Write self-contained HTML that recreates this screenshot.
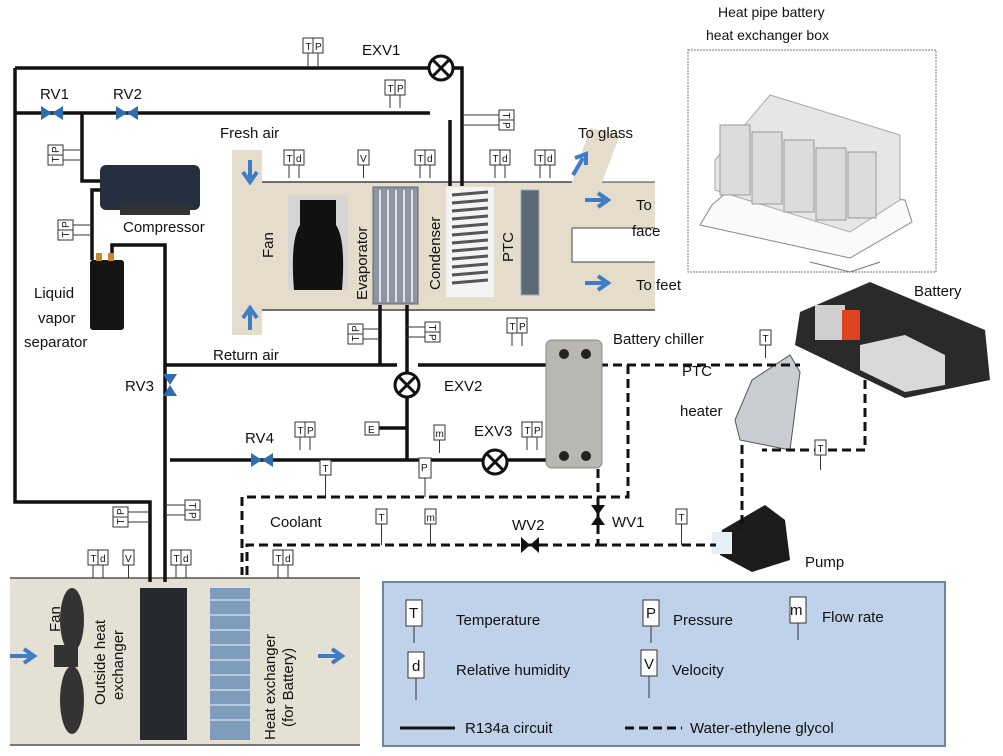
<!DOCTYPE html>
<html><head><meta charset="utf-8"><style>
body{margin:0;background:#fff}
svg{display:block}
text{font-family:"Liberation Sans",sans-serif;fill:#111}
.s{font-size:10px}
.l{font-size:15px}
</style></head><body>
<svg width="1003" height="756" viewBox="0 0 1003 756" xmlns="http://www.w3.org/2000/svg">
<defs>
<g id="tp"><rect x="0" y="0" width="10" height="15" fill="#fff" stroke="#333"/><rect x="10" y="0" width="10" height="15" fill="#fff" stroke="#333"/><line x1="5" y1="15" x2="5" y2="28" stroke="#333"/><line x1="15" y1="15" x2="15" y2="28" stroke="#333"/></g>
<g id="one"><rect x="0" y="0" width="11" height="15" fill="#fff" stroke="#333"/><line x1="5.5" y1="15" x2="5.5" y2="28" stroke="#333"/></g>
<g id="exv"><circle r="12" fill="#fff" stroke="#111" stroke-width="3"/><line x1="-8" y1="-8" x2="8" y2="8" stroke="#111" stroke-width="3"/><line x1="-8" y1="8" x2="8" y2="-8" stroke="#111" stroke-width="3"/></g>
<g id="rvh"><path d="M-11,-7 L11,7 L11,-7 L-11,7 Z" fill="#2f6db3"/></g>
<g id="rvv"><path d="M-7,-11 L7,11 L-7,11 L7,-11 Z" fill="#2f6db3"/></g>
</defs>

<!-- cabin duct -->
<path d="M232,150 H262 V182 H572 L590,128 L620,135 L602,182 H655 V228 H572 V262 H655 V310 H262 V335 H232 Z" fill="#e5dccb"/>
<line x1="262" y1="182" x2="572" y2="182" stroke="#444" stroke-width="1.5"/>
<line x1="262" y1="310" x2="655" y2="310" stroke="#444" stroke-width="1.5"/>
<path d="M602,182 H655 M572,228 H655 M572,228 V262 H655" stroke="#444" fill="none" stroke-width="1"/>
<!-- outside box -->
<rect x="10" y="578" width="350" height="168" fill="#e5e0d4"/>
<line x1="10" y1="578" x2="360" y2="578" stroke="#555" stroke-width="1.5"/>
<line x1="10" y1="745" x2="360" y2="745" stroke="#555" stroke-width="1.5"/>
<!-- legend -->
<rect x="383" y="582" width="562" height="164" fill="#bfd2ea" stroke="#6d86a6" stroke-width="2"/>
<!-- heat pipe box -->
<rect x="688" y="50" width="248" height="222" fill="#fff" stroke="#777" stroke-dasharray="2,1"/>
<path d="M712,205 L735,185 L905,200 L912,222 L850,258 L700,225 Z" fill="#fafafa" stroke="#888"/>
<path d="M715,160 L770,95 L900,135 L900,200 L850,232 L715,190 Z" fill="#e6e6e6" stroke="#aaa"/>
<g stroke="#999" fill="#dcdcdc"><rect x="720" y="125" width="30" height="70"/><rect x="752" y="132" width="30" height="72"/><rect x="784" y="140" width="30" height="72"/><rect x="816" y="148" width="30" height="72"/><rect x="848" y="152" width="28" height="66"/></g>
<path d="M850,272 L810,262 M850,272 L880,262" stroke="#777"/>
<!-- battery -->
<path d="M800,312 L870,282 L985,330 L990,380 L905,398 L795,345 Z" fill="#2a2a2a"/>
<rect x="815" y="305" width="30" height="35" fill="#cfcfcf"/>
<rect x="842" y="310" width="18" height="30" fill="#e0431f"/>
<path d="M860,345 L905,335 L945,355 L945,385 L905,392 L860,370 Z" fill="#d9d9d9"/>
<!-- PTC heater -->
<path d="M752,380 L790,355 L800,372 L790,450 L740,440 L735,420 Z" fill="#c9ccd1" stroke="#555"/>
<!-- pump -->
<path d="M722,530 L765,505 L785,520 L790,560 L752,572 L720,555 Z" fill="#1c1c1c"/>
<rect x="712" y="532" width="20" height="22" fill="#e6eef6"/>

<!-- R134a lines -->
<g stroke="#111" stroke-width="3.5" fill="none">
<path d="M15,68 H429 M453,68 H462 V186"/>
<path d="M15,68 V502 H150 V582"/>
<path d="M15,113 H430 M450,120 V186"/>
<path d="M82,113 V181 H105"/>
<path d="M103,190 H92 V260"/>
<path d="M112,258 V245 H165 V582"/>
<path d="M165,365 H397 M418,365 H552"/>
<path d="M380,305 V365 M407,305 V373 M407,397 V460"/>
<path d="M170,460 H484 M506,460 H552"/>
<path d="M365,428 H407"/>
</g>
<!-- dashed -->
<g stroke="#111" stroke-width="3" fill="none" stroke-dasharray="9,5">
<path d="M585,365 H800"/>
<path d="M628,365 V497 H242 V575"/>
<path d="M598,455 V545 H247 V575"/>
<path d="M598,545 H716"/>
<path d="M865,380 V450 H762"/>
<path d="M742,445 V530"/>
</g>
<!-- components -->
<use href="#exv" x="441" y="68"/>
<use href="#exv" x="407" y="385"/>
<use href="#exv" x="495" y="462"/>
<use href="#rvh" x="52" y="113"/><use href="#rvh" x="127" y="113"/>
<use href="#rvv" x="170" y="385"/>
<use href="#rvh" x="262" y="460"/>
<g transform="translate(530,545)"><path d="M-9,-8 L9,8 L9,-8 L-9,8 Z" fill="#111"/></g>
<g transform="translate(598,515)"><path d="M-7,-10 L7,10 L-7,10 L7,-10 Z" fill="#111"/></g>
<!-- compressor -->
<rect x="100" y="165" width="100" height="45" rx="6" fill="#243040"/>
<rect x="120" y="205" width="70" height="10" fill="#333"/>
<!-- separator -->
<rect x="90" y="260" width="34" height="70" rx="3" fill="#141414"/>
<rect x="96" y="253" width="6" height="8" fill="#c8872a"/><rect x="108" y="253" width="6" height="8" fill="#c8872a"/>
<!-- fan photo -->
<rect x="288" y="195" width="60" height="95" fill="#d5d5d5"/>
<path d="M300,200 H336 V225 Q346,240 342,290 H294 Q290,240 300,225 Z" fill="#111"/>
<!-- evaporator -->
<rect x="373" y="187" width="45" height="117" fill="#8c97a3" stroke="#666"/>
<g stroke="#dfe4ea" stroke-width="2"><line x1="380" y1="190" x2="380" y2="302"/><line x1="388" y1="190" x2="388" y2="302"/><line x1="396" y1="190" x2="396" y2="302"/><line x1="404" y1="190" x2="404" y2="302"/><line x1="412" y1="190" x2="412" y2="302"/></g>
<!-- condenser -->
<rect x="446" y="187" width="48" height="110" fill="#f4f4f4"/>
<g stroke="#555" stroke-width="3"><line x1="452" y1="195" x2="488" y2="192"/><line x1="452" y1="203" x2="488" y2="200"/><line x1="452" y1="211" x2="488" y2="208"/><line x1="452" y1="219" x2="488" y2="216"/><line x1="452" y1="227" x2="488" y2="224"/><line x1="452" y1="235" x2="488" y2="232"/><line x1="452" y1="243" x2="488" y2="240"/><line x1="452" y1="251" x2="488" y2="248"/><line x1="452" y1="259" x2="488" y2="256"/><line x1="452" y1="267" x2="488" y2="264"/><line x1="452" y1="275" x2="488" y2="272"/><line x1="452" y1="283" x2="488" y2="280"/></g>
<!-- PTC -->
<rect x="521" y="190" width="18" height="105" fill="#5d6a76" stroke="#9ab"/>
<!-- chiller -->
<rect x="546" y="340" width="56" height="128" rx="6" fill="#b9b7b1" stroke="#888"/>
<circle cx="564" cy="354" r="5" fill="#222"/><circle cx="586" cy="354" r="5" fill="#222"/>
<circle cx="564" cy="456" r="5" fill="#222"/><circle cx="586" cy="456" r="5" fill="#222"/>
<!-- outside HX -->
<rect x="140" y="588" width="47" height="152" fill="#262a30"/>
<rect x="210" y="588" width="40" height="152" fill="#7e9dbd"/>
<g stroke="#c8d8e8" stroke-width="1.5"><line x1="210" y1="600" x2="250" y2="600"/><line x1="210" y1="615" x2="250" y2="615"/><line x1="210" y1="630" x2="250" y2="630"/><line x1="210" y1="645" x2="250" y2="645"/><line x1="210" y1="660" x2="250" y2="660"/><line x1="210" y1="675" x2="250" y2="675"/><line x1="210" y1="690" x2="250" y2="690"/><line x1="210" y1="705" x2="250" y2="705"/><line x1="210" y1="720" x2="250" y2="720"/></g>
<!-- fan outside -->
<ellipse cx="72" cy="620" rx="12" ry="32" fill="#333"/><ellipse cx="72" cy="700" rx="12" ry="34" fill="#333"/><rect x="54" y="645" width="24" height="22" fill="#333"/>
<!-- blue arrows -->
<g fill="#3e7cc6">
<path d="M250,160 V178 M243,172 L250,182 L257,172" stroke="#3e7cc6" stroke-width="4" fill="none"/>
<path d="M250,330 V312 M243,318 L250,308 L257,318" stroke="#3e7cc6" stroke-width="4" fill="none"/>
<path d="M585,200 H604 M598,193 L608,200 L598,207" stroke="#3e7cc6" stroke-width="4" fill="none"/>
<path d="M585,283 H604 M598,276 L608,283 L598,290" stroke="#3e7cc6" stroke-width="4" fill="none"/>
<path d="M573,175 L583,158 M575,158 L586,154 L586,165" stroke="#3e7cc6" stroke-width="4" fill="none"/>
<path d="M10,656 H30 M24,649 L34,656 L24,663" stroke="#3e7cc6" stroke-width="4" fill="none"/>
<path d="M318,656 H338 M332,649 L342,656 L332,663" stroke="#3e7cc6" stroke-width="4" fill="none"/>
</g>
<!-- sensors -->
<g class="s">
<use href="#tp" x="303" y="38"/><text x="305.5" y="50">T</text><text x="315" y="50">P</text>
<use href="#tp" x="385" y="80"/><text x="387.5" y="92">T</text><text x="397" y="92">P</text>
<use href="#tp" x="284" y="150"/><text x="286.5" y="162">T</text><text x="296" y="162">d</text>
<use href="#one" x="358" y="150"/><text x="360" y="162">V</text>
<use href="#tp" x="415" y="150"/><text x="417.5" y="162">T</text><text x="427" y="162">d</text>
<use href="#tp" x="490" y="150"/><text x="492.5" y="162">T</text><text x="502" y="162">d</text>
<use href="#tp" x="535" y="150"/><text x="537.5" y="162">T</text><text x="547" y="162">d</text>
<use href="#tp" x="507" y="318"/><text x="509.5" y="330">T</text><text x="519" y="330">P</text>
<use href="#one" x="760" y="330"/><text x="762.5" y="342">T</text>
<use href="#tp" x="295" y="422"/><text x="297.5" y="434">T</text><text x="307" y="434">P</text>
<use href="#tp" x="522" y="422"/><text x="524.5" y="434">T</text><text x="534" y="434">P</text>
<use href="#one" x="434" y="425"/><text x="435.5" y="437">m</text>
<rect x="365" y="422" width="14" height="13" fill="#fff" stroke="#333"/><text x="368" y="433">E</text>
<rect x="419" y="458" width="12" height="20" fill="#fff" stroke="#333"/><text x="421" y="471">P</text><line x1="425" y1="478" x2="425" y2="497" stroke="#333"/>
<rect x="320" y="460" width="11" height="15" fill="#fff" stroke="#333"/><text x="322.5" y="472">T</text><line x1="325.5" y1="475" x2="325.5" y2="497" stroke="#333"/>
<g transform="translate(0,517)"><rect x="376" y="-8" width="11" height="15" fill="#fff" stroke="#333"/><text x="378.5" y="4">T</text><line x1="381.5" y1="7" x2="381.5" y2="28" stroke="#333"/></g>
<g transform="translate(0,517)"><rect x="425" y="-8" width="11" height="15" fill="#fff" stroke="#333"/><text x="426.5" y="4">m</text><line x1="430.5" y1="7" x2="430.5" y2="28" stroke="#333"/></g>
<g transform="translate(0,517)"><rect x="676" y="-8" width="11" height="15" fill="#fff" stroke="#333"/><text x="678.5" y="4">T</text><line x1="681.5" y1="7" x2="681.5" y2="28" stroke="#333"/></g>
<rect x="815" y="440" width="11" height="15" fill="#fff" stroke="#333"/><text x="817.5" y="452">T</text><line x1="820.5" y1="455" x2="820.5" y2="470" stroke="#333"/>
<use href="#tp" x="88" y="550"/><text x="90.5" y="562">T</text><text x="100" y="562">d</text>
<use href="#one" x="123" y="550"/><text x="125" y="562">V</text>
<use href="#tp" x="171" y="550"/><text x="173.5" y="562">T</text><text x="183" y="562">d</text>
<use href="#tp" x="273" y="550"/><text x="275.5" y="562">T</text><text x="285" y="562">d</text>
<!-- rotated sensors -->
<g transform="translate(48,165) rotate(-90)"><rect x="0" y="0" width="10" height="15" fill="#fff" stroke="#333"/><rect x="10" y="0" width="10" height="15" fill="#fff" stroke="#333"/><text x="2.5" y="11">T</text><text x="12" y="11">P</text><line x1="5" y1="15" x2="5" y2="34" stroke="#333"/><line x1="15" y1="15" x2="15" y2="34" stroke="#333"/></g>
<g transform="translate(58,240) rotate(-90)"><rect x="0" y="0" width="10" height="15" fill="#fff" stroke="#333"/><rect x="10" y="0" width="10" height="15" fill="#fff" stroke="#333"/><text x="2.5" y="11">T</text><text x="12" y="11">P</text><line x1="5" y1="15" x2="5" y2="34" stroke="#333"/><line x1="15" y1="15" x2="15" y2="34" stroke="#333"/></g>
<g transform="translate(348,344) rotate(-90)"><rect x="0" y="0" width="10" height="15" fill="#fff" stroke="#333"/><rect x="10" y="0" width="10" height="15" fill="#fff" stroke="#333"/><text x="2.5" y="11">T</text><text x="12" y="11">P</text><line x1="5" y1="15" x2="5" y2="32" stroke="#333"/><line x1="15" y1="15" x2="15" y2="32" stroke="#333"/></g>
<g transform="translate(113,527) rotate(-90)"><rect x="0" y="0" width="10" height="15" fill="#fff" stroke="#333"/><rect x="10" y="0" width="10" height="15" fill="#fff" stroke="#333"/><text x="2.5" y="11">T</text><text x="12" y="11">P</text><line x1="5" y1="15" x2="5" y2="37" stroke="#333"/><line x1="15" y1="15" x2="15" y2="37" stroke="#333"/></g>
<g transform="translate(514,110) rotate(90)"><rect x="0" y="0" width="10" height="15" fill="#fff" stroke="#333"/><rect x="10" y="0" width="10" height="15" fill="#fff" stroke="#333"/><text x="2.5" y="11">T</text><text x="12" y="11">P</text><line x1="5" y1="15" x2="5" y2="52" stroke="#333"/><line x1="15" y1="15" x2="15" y2="52" stroke="#333"/></g>
<g transform="translate(440,322) rotate(90)"><rect x="0" y="0" width="10" height="15" fill="#fff" stroke="#333"/><rect x="10" y="0" width="10" height="15" fill="#fff" stroke="#333"/><text x="2.5" y="11">T</text><text x="12" y="11">P</text><line x1="5" y1="15" x2="5" y2="33" stroke="#333"/><line x1="15" y1="15" x2="15" y2="33" stroke="#333"/></g>
<g transform="translate(200,500) rotate(90)"><rect x="0" y="0" width="10" height="15" fill="#fff" stroke="#333"/><rect x="10" y="0" width="10" height="15" fill="#fff" stroke="#333"/><text x="2.5" y="11">T</text><text x="12" y="11">P</text><line x1="5" y1="15" x2="5" y2="35" stroke="#333"/><line x1="15" y1="15" x2="15" y2="35" stroke="#333"/></g>
</g>
<!-- labels -->
<g class="l">
<text x="362" y="55">EXV1</text>
<text x="40" y="99">RV1</text><text x="113" y="99">RV2</text>
<text x="220" y="138">Fresh air</text>
<text x="578" y="138">To glass</text>
<text x="123" y="232">Compressor</text>
<text x="636" y="210">To</text><text x="632" y="236">face</text>
<text x="636" y="290">To feet</text>
<text x="34" y="298">Liquid</text><text x="38" y="323">vapor</text><text x="24" y="347">separator</text>
<text x="213" y="360">Return air</text>
<text x="613" y="344">Battery chiller</text>
<text x="914" y="296">Battery</text>
<text x="125" y="391">RV3</text>
<text x="444" y="391">EXV2</text>
<text x="682" y="376">PTC</text><text x="680" y="416">heater</text>
<text x="474" y="436">EXV3</text>
<text x="245" y="443">RV4</text>
<text x="270" y="527">Coolant</text>
<text x="512" y="530">WV2</text><text x="612" y="527">WV1</text>
<text x="805" y="567">Pump</text>
<text x="456" y="625">Temperature</text><text x="673" y="625">Pressure</text><text x="822" y="622">Flow rate</text>
<text x="456" y="675">Relative humidity</text><text x="672" y="675">Velocity</text>
<text x="465" y="733">R134a circuit</text><text x="690" y="733">Water-ethylene glycol</text>
</g>
<text x="718" y="17" font-size="14">Heat pipe battery</text>
<text x="706" y="40" font-size="14">heat exchanger box</text>
<!-- vertical labels -->
<g class="l">
<text transform="translate(273,258) rotate(-90)">Fan</text>
<text transform="translate(367,300) rotate(-90)">Evaporator</text>
<text transform="translate(440,290) rotate(-90)">Condenser</text>
<text transform="translate(513,262) rotate(-90)">PTC</text>
<text transform="translate(60,632) rotate(-90)">Fan</text>
<text transform="translate(105,705) rotate(-90)">Outside heat</text>
<text transform="translate(123,700) rotate(-90)">exchanger</text>
<text transform="translate(275,740) rotate(-90)">Heat exchanger</text>
<text transform="translate(293,727) rotate(-90)">(for Battery)</text>
</g>
<!-- legend symbols -->
<g stroke="#333" fill="#fff">
<rect x="406" y="600" width="16" height="26"/><line x1="414" y1="626" x2="414" y2="643"/>
<rect x="408" y="652" width="16" height="26"/><line x1="416" y1="678" x2="416" y2="700"/>
<rect x="643" y="600" width="16" height="26"/><line x1="651" y1="626" x2="651" y2="643"/>
<rect x="641" y="650" width="16" height="26"/><line x1="649" y1="676" x2="649" y2="698"/>
<rect x="790" y="597" width="16" height="26"/><line x1="798" y1="623" x2="798" y2="640"/>
</g>
<g class="l"><text x="409" y="618">T</text><text x="412" y="671">d</text><text x="646" y="618">P</text><text x="644" y="669">V</text><text x="790" y="615">m</text></g>
<line x1="400" y1="728" x2="455" y2="728" stroke="#111" stroke-width="3"/>
<line x1="625" y1="728" x2="682" y2="728" stroke="#111" stroke-width="3" stroke-dasharray="9,5"/>
</svg>
</body></html>
